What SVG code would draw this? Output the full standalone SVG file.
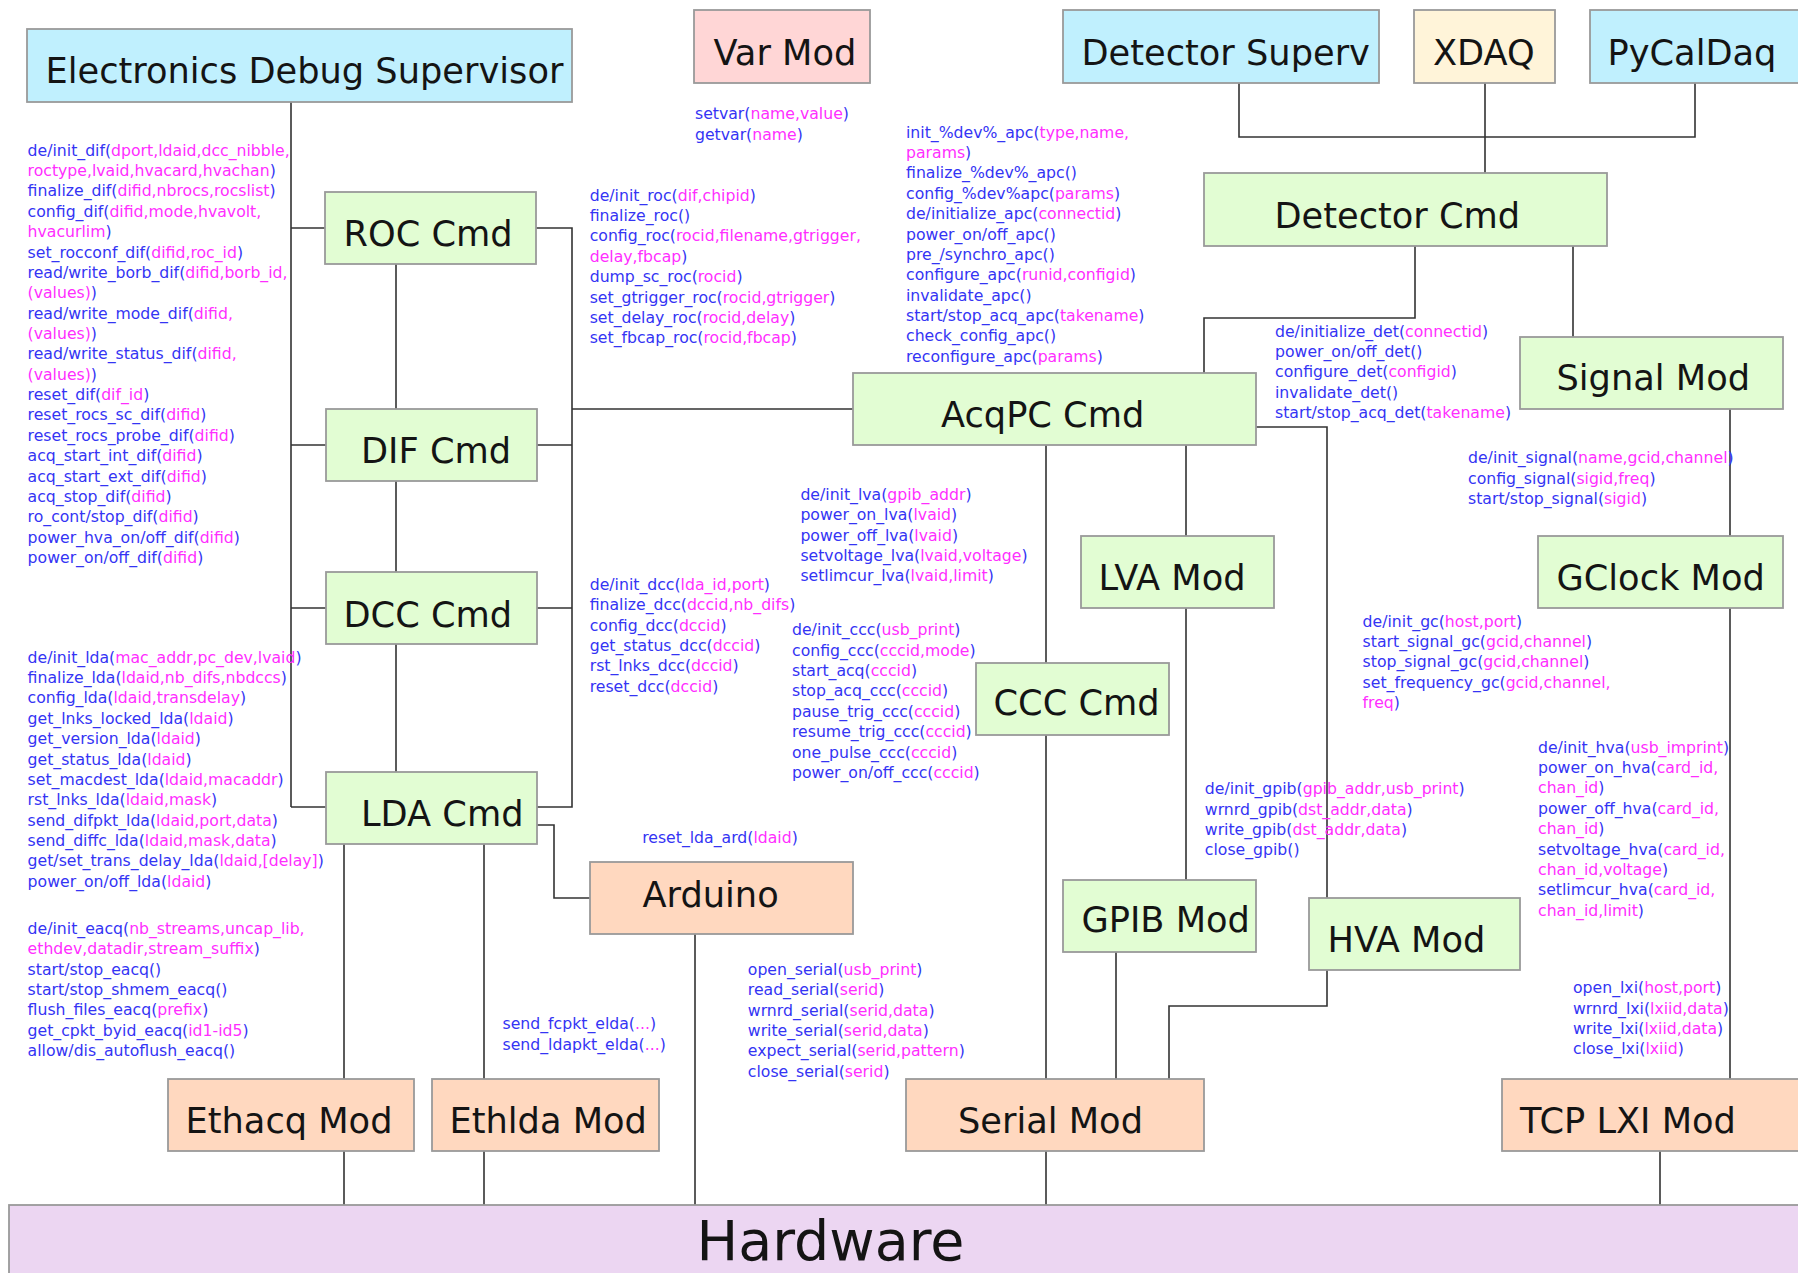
<svg xmlns="http://www.w3.org/2000/svg" width="1798" height="1273" viewBox="0 0 1798 1273">
<style>
.n rect{stroke:#9a9a9a;stroke-width:1.8}
.n text{font-family:"DejaVu Sans","Liberation Sans",sans-serif;font-size:35.2px;fill:#141414}
.cy{fill:#c0f0fe}.pk{fill:#ffd6d6}.yl{fill:#fff4d9}.gr{fill:#e2fdd3}.or{fill:#ffd8bf}.hw{fill:#ecd6f2}
#conn path{fill:none;stroke:#333;stroke-width:1.6}
.t text{font-family:"DejaVu Sans","Liberation Sans",sans-serif;font-size:15.7px;fill:#3434f4}
.m{fill:#ff2eff}
</style>
<rect width="1798" height="1273" fill="#fff"/>
<g id="conn">
<path d="M291,102V807M291,228H325M291,445H326M291,608H326M291,807H326"/>
<path d="M396,264V409M396,481V572M396,644V772"/>
<path d="M536,228H572V807H537M537,445H572M537,608H572M572,409H853"/>
<path d="M537,825H554V898H590"/>
<path d="M344,844V1079M484,844V1079M344,1151V1205M484,1151V1205M695,934V1205"/>
<path d="M1239,83V137H1695V83M1485,83V173"/>
<path d="M1415,246V318H1204V373M1573,246V337"/>
<path d="M1256,427H1327V898"/>
<path d="M1186,445V536M1186,608V880"/>
<path d="M1046,445V663M1046,735V1079M1046,1151V1205"/>
<path d="M1116,952V1079M1327,970V1006H1169V1079"/>
<path d="M1730,409V536M1730,608V1079M1660,1151V1205"/>
</g>
<g id="eds" class="n"><rect class="cy" x="27" y="29" width="545" height="73"/><text x="45.5" y="83">Electronics Debug Supervisor</text></g>
<g id="varmod" class="n"><rect class="pk" x="694" y="10" width="176" height="73"/><text x="713.5" y="65">Var Mod</text></g>
<g id="detsuperv" class="n"><rect class="cy" x="1063" y="10" width="316" height="73"/><text x="1081.5" y="65">Detector Superv</text></g>
<g id="xdaq" class="n"><rect class="yl" x="1414" y="10" width="141" height="73"/><text x="1433" y="65">XDAQ</text></g>
<g id="pycaldaq" class="n"><rect class="cy" x="1590" y="10" width="220" height="73"/><text x="1607.5" y="65">PyCalDaq</text></g>
<g id="detcmd" class="n"><rect class="gr" x="1204" y="173" width="403" height="73"/><text x="1274.5" y="228">Detector Cmd</text></g>
<g id="roccmd" class="n"><rect class="gr" x="325" y="192" width="211" height="72"/><text x="343.5" y="246">ROC Cmd</text></g>
<g id="signalmod" class="n"><rect class="gr" x="1520" y="337" width="263" height="72"/><text x="1556.5" y="390">Signal Mod</text></g>
<g id="acqpccmd" class="n"><rect class="gr" x="853" y="373" width="403" height="72"/><text x="941" y="427">AcqPC Cmd</text></g>
<g id="difcmd" class="n"><rect class="gr" x="326" y="409" width="211" height="72"/><text x="361" y="463">DIF Cmd</text></g>
<g id="lvamod" class="n"><rect class="gr" x="1081" y="536" width="193" height="72"/><text x="1098.5" y="590">LVA Mod</text></g>
<g id="gclockmod" class="n"><rect class="gr" x="1538" y="536" width="245" height="72"/><text x="1556.5" y="590">GClock Mod</text></g>
<g id="dcccmd" class="n"><rect class="gr" x="326" y="572" width="211" height="72"/><text x="343.5" y="627">DCC Cmd</text></g>
<g id="ccccmd" class="n"><rect class="gr" x="976" y="663" width="193" height="72"/><text x="993.5" y="715">CCC Cmd</text></g>
<g id="ldacmd" class="n"><rect class="gr" x="326" y="772" width="211" height="72"/><text x="361" y="826">LDA Cmd</text></g>
<g id="arduino" class="n"><rect class="or" x="590" y="862" width="263" height="72"/><text x="642.5" y="907">Arduino</text></g>
<g id="gpibmod" class="n"><rect class="gr" x="1063" y="880" width="193" height="72"/><text x="1081.5" y="932">GPIB Mod</text></g>
<g id="hvamod" class="n"><rect class="gr" x="1309" y="898" width="211" height="72"/><text x="1327.5" y="952">HVA Mod</text></g>
<g id="ethacqmod" class="n"><rect class="or" x="168" y="1079" width="246" height="72"/><text x="185.5" y="1133">Ethacq Mod</text></g>
<g id="ethldamod" class="n"><rect class="or" x="432" y="1079" width="227" height="72"/><text x="449.5" y="1133">Ethlda Mod</text></g>
<g id="serialmod" class="n"><rect class="or" x="906" y="1079" width="298" height="72"/><text x="958" y="1133">Serial Mod</text></g>
<g id="tcplximod" class="n"><rect class="or" x="1502" y="1079" width="310" height="72"/><text x="1520" y="1133">TCP LXI Mod</text></g>
<g id="hardware" class="n"><rect class="hw" x="9" y="1205" width="1800" height="80"/><text x="696.5" y="1260" style="font-size:55.5px">Hardware</text></g>

<g id="lbl-dif" class="t">
<text x="27.6" y="155.7">de/init_dif(<tspan class="m">dport,ldaid,dcc_nibble,</tspan></text>
<text x="27.6" y="176.1"><tspan class="m">roctype,lvaid,hvacard,hvachan</tspan>)</text>
<text x="27.6" y="196.4">finalize_dif(<tspan class="m">difid,nbrocs,rocslist</tspan>)</text>
<text x="27.6" y="216.8">config_dif(<tspan class="m">difid,mode,hvavolt,</tspan></text>
<text x="27.6" y="237.1"><tspan class="m">hvacurlim</tspan>)</text>
<text x="27.6" y="257.5">set_rocconf_dif(<tspan class="m">difid,roc_id</tspan>)</text>
<text x="27.6" y="277.9">read/write_borb_dif(<tspan class="m">difid,borb_id,</tspan></text>
<text x="27.6" y="298.2"><tspan class="m">(values)</tspan>)</text>
<text x="27.6" y="318.6">read/write_mode_dif(<tspan class="m">difid,</tspan></text>
<text x="27.6" y="338.9"><tspan class="m">(values)</tspan>)</text>
<text x="27.6" y="359.3">read/write_status_dif(<tspan class="m">difid,</tspan></text>
<text x="27.6" y="379.7"><tspan class="m">(values)</tspan>)</text>
<text x="27.6" y="400.0">reset_dif(<tspan class="m">dif_id</tspan>)</text>
<text x="27.6" y="420.4">reset_rocs_sc_dif(<tspan class="m">difid</tspan>)</text>
<text x="27.6" y="440.7">reset_rocs_probe_dif(<tspan class="m">difid</tspan>)</text>
<text x="27.6" y="461.1">acq_start_int_dif(<tspan class="m">difid</tspan>)</text>
<text x="27.6" y="481.5">acq_start_ext_dif(<tspan class="m">difid</tspan>)</text>
<text x="27.6" y="501.8">acq_stop_dif(<tspan class="m">difid</tspan>)</text>
<text x="27.6" y="522.2">ro_cont/stop_dif(<tspan class="m">difid</tspan>)</text>
<text x="27.6" y="542.5">power_hva_on/off_dif(<tspan class="m">difid</tspan>)</text>
<text x="27.6" y="562.9">power_on/off_dif(<tspan class="m">difid</tspan>)</text>
</g>
<g id="lbl-lda" class="t">
<text x="27.6" y="662.7">de/init_lda(<tspan class="m">mac_addr,pc_dev,lvaid</tspan>)</text>
<text x="27.6" y="683.1">finalize_lda(<tspan class="m">ldaid,nb_difs,nbdccs</tspan>)</text>
<text x="27.6" y="703.4">config_lda(<tspan class="m">ldaid,transdelay</tspan>)</text>
<text x="27.6" y="723.8">get_lnks_locked_lda(<tspan class="m">ldaid</tspan>)</text>
<text x="27.6" y="744.1">get_version_lda(<tspan class="m">ldaid</tspan>)</text>
<text x="27.6" y="764.5">get_status_lda(<tspan class="m">ldaid</tspan>)</text>
<text x="27.6" y="784.9">set_macdest_lda(<tspan class="m">ldaid,macaddr</tspan>)</text>
<text x="27.6" y="805.2">rst_lnks_lda(<tspan class="m">ldaid,mask</tspan>)</text>
<text x="27.6" y="825.6">send_difpkt_lda(<tspan class="m">ldaid,port,data</tspan>)</text>
<text x="27.6" y="845.9">send_diffc_lda(<tspan class="m">ldaid,mask,data</tspan>)</text>
<text x="27.6" y="866.3">get/set_trans_delay_lda(<tspan class="m">ldaid,[delay]</tspan>)</text>
<text x="27.6" y="886.7">power_on/off_lda(<tspan class="m">ldaid</tspan>)</text>
</g>
<g id="lbl-eacq" class="t">
<text x="27.6" y="934">de/init_eacq(<tspan class="m">nb_streams,uncap_lib,</tspan></text>
<text x="27.6" y="954.4"><tspan class="m">ethdev,datadir,stream_suffix</tspan>)</text>
<text x="27.6" y="974.7">start/stop_eacq()</text>
<text x="27.6" y="995.1">start/stop_shmem_eacq()</text>
<text x="27.6" y="1015.4">flush_files_eacq(<tspan class="m">prefix</tspan>)</text>
<text x="27.6" y="1035.8">get_cpkt_byid_eacq(<tspan class="m">id1-id5</tspan>)</text>
<text x="27.6" y="1056.2">allow/dis_autoflush_eacq()</text>
</g>
<g id="lbl-var" class="t">
<text x="695" y="119.3">setvar(<tspan class="m">name,value</tspan>)</text>
<text x="695" y="139.7">getvar(<tspan class="m">name</tspan>)</text>
</g>
<g id="lbl-roc" class="t">
<text x="589.7" y="200.7">de/init_roc(<tspan class="m">dif,chipid</tspan>)</text>
<text x="589.7" y="221.1">finalize_roc()</text>
<text x="589.7" y="241.4">config_roc(<tspan class="m">rocid,filename,gtrigger,</tspan></text>
<text x="589.7" y="261.8"><tspan class="m">delay,fbcap</tspan>)</text>
<text x="589.7" y="282.1">dump_sc_roc(<tspan class="m">rocid</tspan>)</text>
<text x="589.7" y="302.5">set_gtrigger_roc(<tspan class="m">rocid,gtrigger</tspan>)</text>
<text x="589.7" y="322.9">set_delay_roc(<tspan class="m">rocid,delay</tspan>)</text>
<text x="589.7" y="343.2">set_fbcap_roc(<tspan class="m">rocid,fbcap</tspan>)</text>
</g>
<g id="lbl-apc" class="t">
<text x="906" y="137.7">init_%dev%_apc(<tspan class="m">type,name,</tspan></text>
<text x="906" y="158.1"><tspan class="m">params</tspan>)</text>
<text x="906" y="178.4">finalize_%dev%_apc()</text>
<text x="906" y="198.8">config_%dev%apc(<tspan class="m">params</tspan>)</text>
<text x="906" y="219.1">de/initialize_apc(<tspan class="m">connectid</tspan>)</text>
<text x="906" y="239.5">power_on/off_apc()</text>
<text x="906" y="259.9">pre_/synchro_apc()</text>
<text x="906" y="280.2">configure_apc(<tspan class="m">runid,configid</tspan>)</text>
<text x="906" y="300.6">invalidate_apc()</text>
<text x="906" y="320.9">start/stop_acq_apc(<tspan class="m">takename</tspan>)</text>
<text x="906" y="341.3">check_config_apc()</text>
<text x="906" y="361.7">reconfigure_apc(<tspan class="m">params</tspan>)</text>
</g>
<g id="lbl-det" class="t">
<text x="1275" y="336.7">de/initialize_det(<tspan class="m">connectid</tspan>)</text>
<text x="1275" y="357.1">power_on/off_det()</text>
<text x="1275" y="377.4">configure_det(<tspan class="m">configid</tspan>)</text>
<text x="1275" y="397.8">invalidate_det()</text>
<text x="1275" y="418.1">start/stop_acq_det(<tspan class="m">takename</tspan>)</text>
</g>
<g id="lbl-signal" class="t">
<text x="1468" y="463.3">de/init_signal(<tspan class="m">name,gcid,channel</tspan>)</text>
<text x="1468" y="483.7">config_signal(<tspan class="m">sigid,freq</tspan>)</text>
<text x="1468" y="504">start/stop_signal(<tspan class="m">sigid</tspan>)</text>
</g>
<g id="lbl-lva" class="t">
<text x="800.4" y="500">de/init_lva(<tspan class="m">gpib_addr</tspan>)</text>
<text x="800.4" y="520.4">power_on_lva(<tspan class="m">lvaid</tspan>)</text>
<text x="800.4" y="540.7">power_off_lva(<tspan class="m">lvaid</tspan>)</text>
<text x="800.4" y="561.1">setvoltage_lva(<tspan class="m">lvaid,voltage</tspan>)</text>
<text x="800.4" y="581.4">setlimcur_lva(<tspan class="m">lvaid,limit</tspan>)</text>
</g>
<g id="lbl-dcc" class="t">
<text x="589.7" y="590">de/init_dcc(<tspan class="m">lda_id,port</tspan>)</text>
<text x="589.7" y="610.4">finalize_dcc(<tspan class="m">dccid,nb_difs</tspan>)</text>
<text x="589.7" y="630.7">config_dcc(<tspan class="m">dccid</tspan>)</text>
<text x="589.7" y="651.1">get_status_dcc(<tspan class="m">dccid</tspan>)</text>
<text x="589.7" y="671.4">rst_lnks_dcc(<tspan class="m">dccid</tspan>)</text>
<text x="589.7" y="691.8">reset_dcc(<tspan class="m">dccid</tspan>)</text>
</g>
<g id="lbl-ccc" class="t">
<text x="792" y="635.3">de/init_ccc(<tspan class="m">usb_print</tspan>)</text>
<text x="792" y="655.7">config_ccc(<tspan class="m">cccid,mode</tspan>)</text>
<text x="792" y="676">start_acq(<tspan class="m">cccid</tspan>)</text>
<text x="792" y="696.4">stop_acq_ccc(<tspan class="m">cccid</tspan>)</text>
<text x="792" y="716.7">pause_trig_ccc(<tspan class="m">cccid</tspan>)</text>
<text x="792" y="737.1">resume_trig_ccc(<tspan class="m">cccid</tspan>)</text>
<text x="792" y="757.5">one_pulse_ccc(<tspan class="m">cccid</tspan>)</text>
<text x="792" y="777.8">power_on/off_ccc(<tspan class="m">cccid</tspan>)</text>
</g>
<g id="lbl-ard" class="t">
<text x="642.2" y="843.3">reset_lda_ard(<tspan class="m">ldaid</tspan>)</text>
</g>
<g id="lbl-gc" class="t">
<text x="1362.6" y="626.7">de/init_gc(<tspan class="m">host,port</tspan>)</text>
<text x="1362.6" y="647.1">start_signal_gc(<tspan class="m">gcid,channel</tspan>)</text>
<text x="1362.6" y="667.4">stop_signal_gc(<tspan class="m">gcid,channel</tspan>)</text>
<text x="1362.6" y="687.8">set_frequency_gc(<tspan class="m">gcid,channel,</tspan></text>
<text x="1362.6" y="708.1"><tspan class="m">freq</tspan>)</text>
</g>
<g id="lbl-hva" class="t">
<text x="1538" y="752.7">de/init_hva(<tspan class="m">usb_imprint</tspan>)</text>
<text x="1538" y="773.1">power_on_hva(<tspan class="m">card_id,</tspan></text>
<text x="1538" y="793.4"><tspan class="m">chan_id</tspan>)</text>
<text x="1538" y="813.8">power_off_hva(<tspan class="m">card_id,</tspan></text>
<text x="1538" y="834.1"><tspan class="m">chan_id</tspan>)</text>
<text x="1538" y="854.5">setvoltage_hva(<tspan class="m">card_id,</tspan></text>
<text x="1538" y="874.9"><tspan class="m">chan_id,voltage</tspan>)</text>
<text x="1538" y="895.2">setlimcur_hva(<tspan class="m">card_id,</tspan></text>
<text x="1538" y="915.6"><tspan class="m">chan_id,limit</tspan>)</text>
</g>
<g id="lbl-gpib" class="t">
<text x="1204.8" y="794.3">de/init_gpib(<tspan class="m">gpib_addr,usb_print</tspan>)</text>
<text x="1204.8" y="814.7">wrnrd_gpib(<tspan class="m">dst_addr,data</tspan>)</text>
<text x="1204.8" y="835">write_gpib(<tspan class="m">dst_addr,data</tspan>)</text>
<text x="1204.8" y="855.4">close_gpib()</text>
</g>
<g id="lbl-serial" class="t">
<text x="747.8" y="975">open_serial(<tspan class="m">usb_print</tspan>)</text>
<text x="747.8" y="995.4">read_serial(<tspan class="m">serid</tspan>)</text>
<text x="747.8" y="1015.7">wrnrd_serial(<tspan class="m">serid,data</tspan>)</text>
<text x="747.8" y="1036.1">write_serial(<tspan class="m">serid,data</tspan>)</text>
<text x="747.8" y="1056.4">expect_serial(<tspan class="m">serid,pattern</tspan>)</text>
<text x="747.8" y="1076.8">close_serial(<tspan class="m">serid</tspan>)</text>
</g>
<g id="lbl-elda" class="t">
<text x="502.5" y="1029.3">send_fcpkt_elda(<tspan class="m">...</tspan>)</text>
<text x="502.5" y="1049.7">send_ldapkt_elda(<tspan class="m">...</tspan>)</text>
</g>
<g id="lbl-lxi" class="t">
<text x="1573" y="993.3">open_lxi(<tspan class="m">host,port</tspan>)</text>
<text x="1573" y="1013.7">wrnrd_lxi(<tspan class="m">lxiid,data</tspan>)</text>
<text x="1573" y="1034">write_lxi(<tspan class="m">lxiid,data</tspan>)</text>
<text x="1573" y="1054.4">close_lxi(<tspan class="m">lxiid</tspan>)</text>
</g>
</svg>
